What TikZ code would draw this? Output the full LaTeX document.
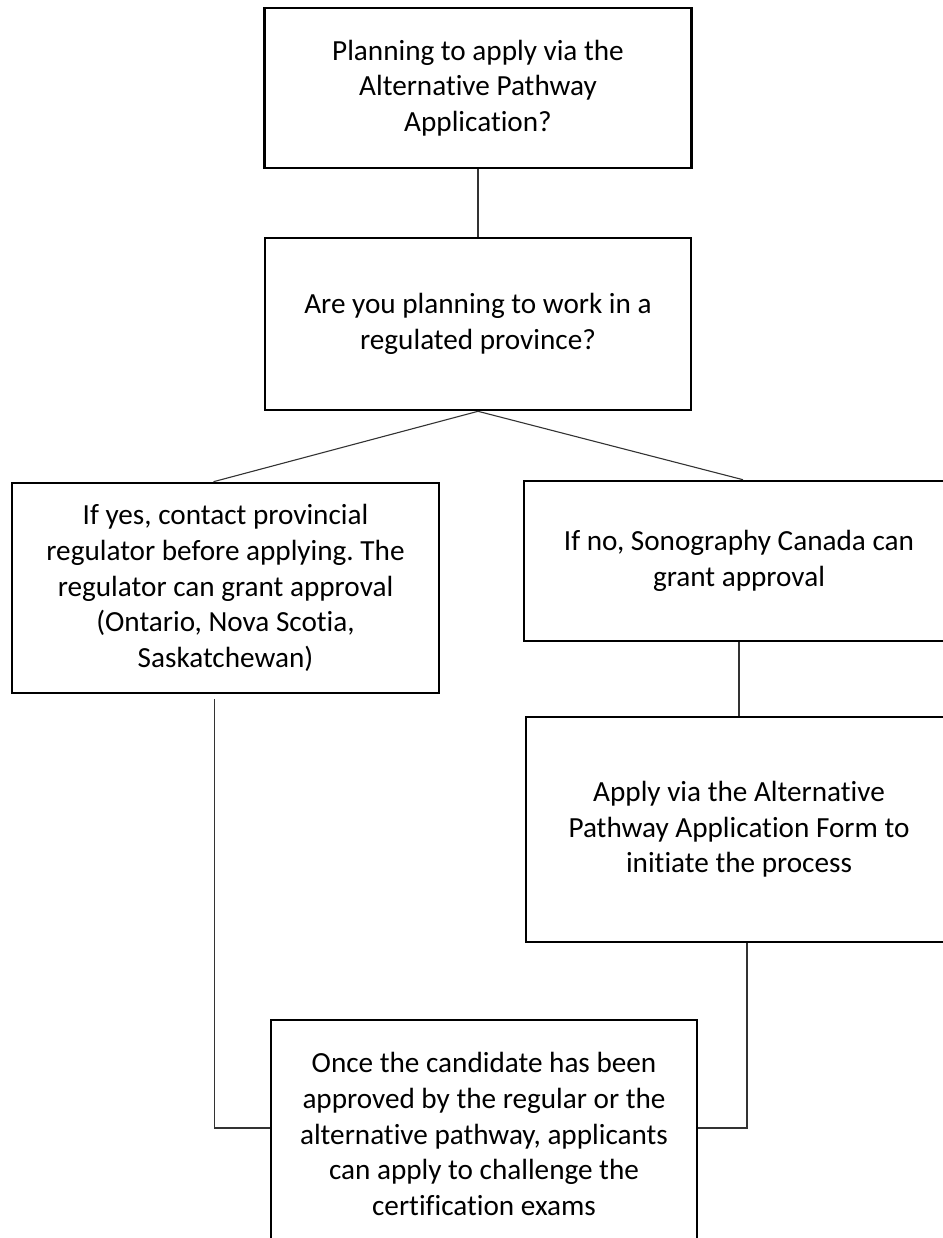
\documentclass[tikz,border=0pt]{standalone}
\usepackage{fontspec}
\setmainfont{Carlito}[Ligatures=NoCommon]
\usetikzlibrary{positioning}
\frenchspacing

\begin{document}
\begin{tikzpicture}[node distance=2cm,on grid,
    box/.style={draw,line width=1.3pt,align=center,inner sep=0pt,font=\fontsize{14.6}{17.8}\selectfont},
    link/.style={line width=0.55pt,draw=black!80}]
\useasboundingbox (0,0) rectangle (471.5pt,-619pt);
\clip (0,0) rectangle (471.5pt,-619pt);
\node[box,minimum width=213.5pt,minimum height=80pt] (plan) at (239pt,-44pt) {Planning to apply via the\\Alternative Pathway\\Application?};
\node[box,minimum width=213pt,minimum height=86pt] [below=118pt of plan] (province) {Are you planning to work in a\\regulated province?};
\node[box,minimum width=213.5pt,minimum height=105pt] [below left=132pt and 126.25pt of province] (yes) {If yes, contact provincial\\regulator before applying. The\\regulator can grant approval\\(Ontario, Nova Scotia,\\Saskatchewan)};
\node[box,minimum width=215pt,minimum height=80pt] [below right=118.5pt and 130.5pt of province] (no) {If no, Sonography Canada can\\grant approval};
\node[box,minimum width=213pt,minimum height=112.5pt] [below=134.25pt of no] (form) {Apply via the Alternative\\Pathway Application Form to\\initiate the process};
\node[box,minimum width=213pt,minimum height=114pt] [below left=152.25pt and 127.5pt of form] (exams) {Once the candidate has been\\approved by the regular or the\\alternative pathway, applicants\\can apply to challenge the\\certification exams};
\draw[link] (plan) -- (province);
\draw[link] (province.south) -- ([xshift=-6pt]yes.north);
\draw[link] (province.south) -- ([xshift=2pt]no.north);
\draw[link] (no) -- (form);
\draw[link] ([xshift=-5.5pt,yshift=-2.5pt]yes.south) |- ([yshift=3pt]exams.west);
\draw[link] ([xshift=4pt]form.south) |- ([yshift=3pt]exams.east);
\end{tikzpicture}
\end{document}
